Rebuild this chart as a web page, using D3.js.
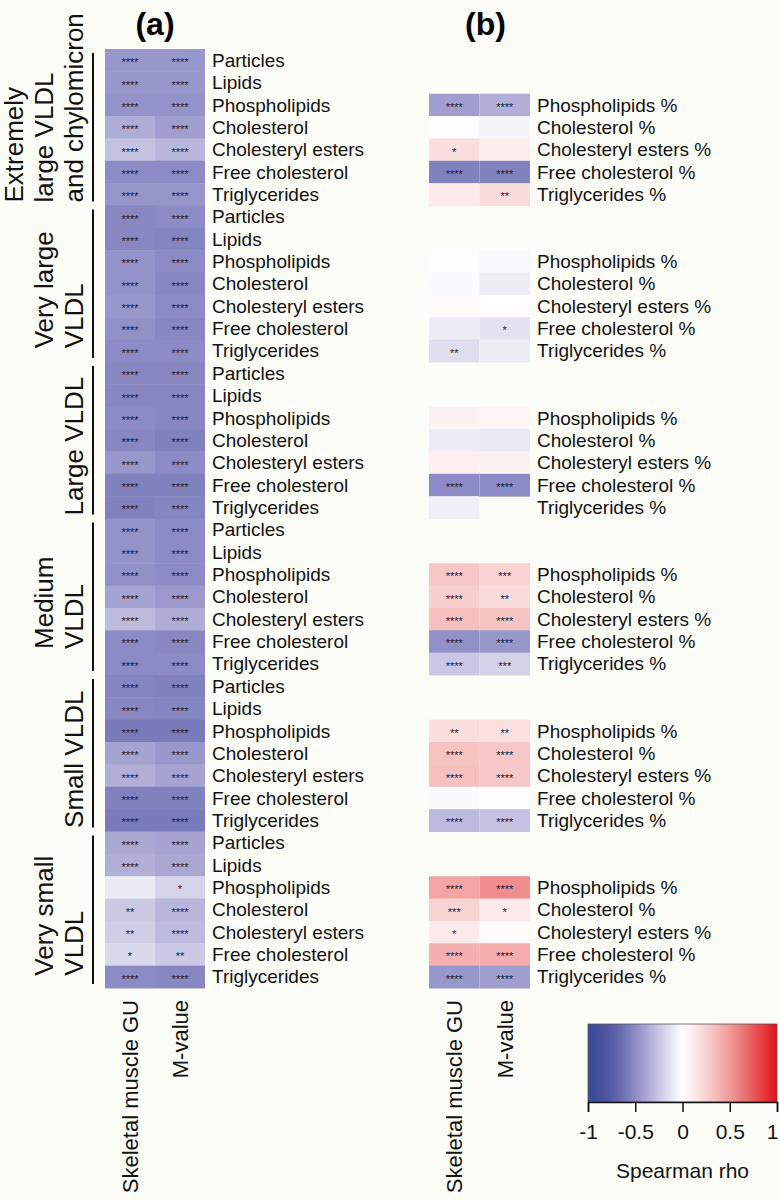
<!DOCTYPE html>
<html>
<head>
<meta charset="utf-8">
<script src="https://cdn.jsdelivr.net/npm/d3@7"></script>
<style>
  html, body { margin: 0; padding: 0; background: #FDFDF8; }
  svg { display: block; font-family: "Liberation Sans", Arial, sans-serif; }
</style>
</head>
<body>
<svg id="chart" width="780" height="1200"></svg>
<script>
// ---------------- DATA ----------------
const groupLabelLines = [
  ["Extremely", "large VLDL", "and chylomicron"],
  ["Very large", "VLDL"],
  ["Large VLDL"],
  ["Medium", "VLDL"],
  ["Small VLDL"],
  ["Very small", "VLDL"]
];
const measuresA = ["Particles", "Lipids", "Phospholipids", "Cholesterol", "Cholesteryl esters", "Free cholesterol", "Triglycerides"];
const measuresB = ["Phospholipids %", "Cholesterol %", "Cholesteryl esters %", "Free cholesterol %", "Triglycerides %"];
const columns = ["Skeletal muscle GU", "M-value"];

// Panel (a): Spearman rho, 7 measures x 6 groups (rows in order)
const rhoA_GU = [
  -0.45, -0.45, -0.47, -0.36, -0.27, -0.50, -0.46,
  -0.52, -0.52, -0.47, -0.47, -0.45, -0.48, -0.50,
  -0.52, -0.52, -0.50, -0.52, -0.45, -0.55, -0.55,
  -0.47, -0.47, -0.48, -0.40, -0.30, -0.50, -0.50,
  -0.53, -0.52, -0.58, -0.40, -0.35, -0.55, -0.58,
  -0.38, -0.35, -0.09, -0.24, -0.22, -0.17, -0.50
];
const rhoA_M = [
  -0.45, -0.45, -0.47, -0.42, -0.32, -0.50, -0.46,
  -0.50, -0.53, -0.50, -0.52, -0.50, -0.52, -0.50,
  -0.52, -0.52, -0.52, -0.55, -0.50, -0.55, -0.53,
  -0.50, -0.50, -0.50, -0.44, -0.36, -0.52, -0.50,
  -0.55, -0.53, -0.58, -0.45, -0.40, -0.55, -0.58,
  -0.40, -0.38, -0.19, -0.32, -0.30, -0.24, -0.52
];
const starsA_GU = [
  "****","****","****","****","****","****","****",
  "****","****","****","****","****","****","****",
  "****","****","****","****","****","****","****",
  "****","****","****","****","****","****","****",
  "****","****","****","****","****","****","****",
  "****","****","","**","**","*","****"
];
const starsA_M = [
  "****","****","****","****","****","****","****",
  "****","****","****","****","****","****","****",
  "****","****","****","****","****","****","****",
  "****","****","****","****","****","****","****",
  "****","****","****","****","****","****","****",
  "****","****","*","****","****","**","****"
];

// Panel (b): 5 percentage measures x 6 groups (null = not shown)
const rhoB_GU = [
  -0.42, -0.01, 0.18, -0.55, 0.12,
  -0.01, -0.02, 0.02, -0.08, -0.15,
   0.07, -0.08, 0.09, -0.50, -0.07,
   0.30, 0.27, 0.33, -0.48, -0.25,
   0.18, 0.32, 0.33, -0.02, -0.30,
   0.45, 0.25, 0.12, 0.40, -0.45
];
const rhoB_M = [
  -0.35, -0.05, 0.10, -0.55, 0.20,
  -0.03, -0.08, 0.01, -0.13, -0.08,
   0.05, -0.10, 0.07, -0.50, null,
   0.25, 0.20, 0.32, -0.45, -0.20,
   0.17, 0.30, 0.30, -0.01, -0.27,
   0.55, 0.12, 0.02, 0.42, -0.42
];
const starsB_GU = [
  "****","","*","****","",
  "","","","","**",
  "","","","****","",
  "****","****","****","****","****",
  "**","****","****","","****",
  "****","***","*","****","****"
];
const starsB_M = [
  "****","","","****","**",
  "","","","*","",
  "","","","****","",
  "***","**","****","****","***",
  "**","****","****","","****",
  "****","*","","****","****"
];

const colorTicks = [-1, -0.5, 0, 0.5, 1];

// ---------------- DRAW ----------------
const svg = d3.select("#chart");
const nPer = measuresA.length;
const nRows = groupLabelLines.length * nPer;

const y = d3.scaleBand().domain(d3.range(nRows)).range([49, 988]);
const xA = d3.scaleBand().domain(columns).range([105, 205]);
const xB = d3.scaleBand().domain(columns).range([429, 530]);

const color = d3.scaleLinear()
  .domain([-1, -0.75, -0.5, -0.25, 0, 0.25, 0.5, 0.75, 1])
  .range(["#3A4896", "#5459A4", "#8C8BC5", "#C9C7E3", "#FFFFFF", "#F9D2D2", "#F19A9A", "#E85A5A", "#E3101A"])
  .clamp(true);

const starColor = "#1A1A3A";

function drawPanel(xScale, rowIndex, vals, stars, col) {
  const cells = rowIndex.map((r, i) => ({ r, v: vals[i], s: stars[i], col }));
  const g = svg.append("g");
  g.selectAll("rect").data(cells.filter(d => d.v !== null)).join("rect")
    .attr("x", d => xScale(d.col))
    .attr("y", d => y(d.r))
    .attr("width", xScale.bandwidth())
    .attr("height", y.bandwidth() + 0.5)
    .attr("fill", d => color(d.v));
  g.selectAll("text").data(cells.filter(d => d.s)).join("text")
    .attr("x", d => xScale(d.col) + xScale.bandwidth() / 2)
    .attr("y", d => y(d.r) + y.bandwidth() / 2 + 6)
    .attr("text-anchor", "middle")
    .attr("font-size", 11)
    .attr("fill", starColor)
    .text(d => d.s);
}

const rowsA = d3.range(nRows);
const rowsB = [];
groupLabelLines.forEach((_, gi) => measuresB.forEach((_, k) => rowsB.push(gi * nPer + 2 + k)));

drawPanel(xA, rowsA, rhoA_GU, starsA_GU, columns[0]);
drawPanel(xA, rowsA, rhoA_M, starsA_M, columns[1]);
drawPanel(xB, rowsB, rhoB_GU, starsB_GU, columns[0]);
drawPanel(xB, rowsB, rhoB_M, starsB_M, columns[1]);

// Row labels
svg.append("g").selectAll("text").data(rowsA).join("text")
  .attr("x", 212)
  .attr("y", r => y(r) + y.bandwidth() / 2)
  .attr("dy", "0.35em")
  .attr("font-size", 19)
  .attr("fill", "#111")
  .text(r => measuresA[r % nPer]);
svg.append("g").selectAll("text").data(rowsB).join("text")
  .attr("x", 537)
  .attr("y", r => y(r) + y.bandwidth() / 2)
  .attr("dy", "0.35em")
  .attr("font-size", 19)
  .attr("fill", "#111")
  .text((r, i) => measuresB[i % measuresB.length]);

// Panel titles
svg.append("text").attr("x", (xA.range()[0] + xA.range()[1]) / 2).attr("y", 35)
  .attr("text-anchor", "middle").attr("font-size", 32).attr("font-weight", "bold").text("(a)");
svg.append("text").attr("x", (xB.range()[0] + xB.range()[1]) / 2 + 6).attr("y", 35)
  .attr("text-anchor", "middle").attr("font-size", 32).attr("font-weight", "bold").text("(b)");

// Column labels (rotated)
[xA, xB].forEach(xs => {
  svg.append("g").selectAll("text").data(columns).join("text")
    .attr("transform", c => `translate(${xs(c) + xs.bandwidth() / 2 + 8},1000) rotate(-90)`)
    .attr("text-anchor", "end")
    .attr("font-size", 22)
    .attr("fill", "#111")
    .text(c => c);
});

// Group brackets and labels
const gl = svg.append("g");
groupLabelLines.forEach((lines, gi) => {
  const top = y(gi * nPer);
  const bottom = y(gi * nPer + nPer - 1) + y.bandwidth();
  gl.append("line").attr("x1", 93).attr("x2", 93)
    .attr("y1", top + 4).attr("y2", bottom - 4)
    .attr("stroke", "#111").attr("stroke-width", 2);
  const center = (top + bottom) / 2;
  const texts = lines.map((ln, li) => {
    const xb = 83 - (lines.length - 1 - li) * 30;
    return gl.append("text").attr("font-size", 26).attr("fill", "#111")
      .attr("text-anchor", "start").attr("data-x", xb).text(ln);
  });
  const maxLen = d3.max(texts, t => t.node().getComputedTextLength());
  const start = Math.min(center + maxLen / 2 + 6, bottom - 3);
  texts.forEach(t => t.attr("transform", `translate(${t.attr("data-x")},${start}) rotate(-90)`));
});

// Colour bar
const cbX = d3.scaleLinear().domain([-1, 1]).range([588, 777]);
const cbTop = 1024, cbBot = 1102;
const defs = svg.append("defs");
const grad = defs.append("linearGradient").attr("id", "cbgrad").attr("x1", "0%").attr("x2", "100%");
d3.range(0, 1.0001, 0.05).forEach(t => {
  grad.append("stop").attr("offset", `${t * 100}%`).attr("stop-color", color(-1 + 2 * t));
});
svg.append("rect").attr("x", cbX(-1)).attr("y", cbTop)
  .attr("width", cbX(1) - cbX(-1)).attr("height", cbBot - cbTop)
  .attr("fill", "url(#cbgrad)").attr("stroke", "#555").attr("stroke-width", 0.8);
const axis = d3.axisBottom(cbX).tickValues(colorTicks).tickSize(10).tickPadding(12)
  .tickFormat(d => String(d));
const ag = svg.append("g").attr("transform", `translate(0,${cbBot})`).call(axis);
ag.select(".domain").attr("stroke", "#111").attr("stroke-width", 1.5);
ag.selectAll(".tick line").attr("stroke", "#111").attr("stroke-width", 1.5);
ag.selectAll(".tick text").attr("font-size", 21).attr("fill", "#111")
  .attr("font-family", "Liberation Sans, Arial, sans-serif");
ag.selectAll(".tick text").filter(d => d === 1).attr("text-anchor", "end").attr("dx", 1);
svg.append("text").attr("x", (cbX(-1) + cbX(1)) / 2).attr("y", 1178)
  .attr("text-anchor", "middle").attr("font-size", 21).attr("fill", "#111").text("Spearman rho");
</script>
</body>
</html>
